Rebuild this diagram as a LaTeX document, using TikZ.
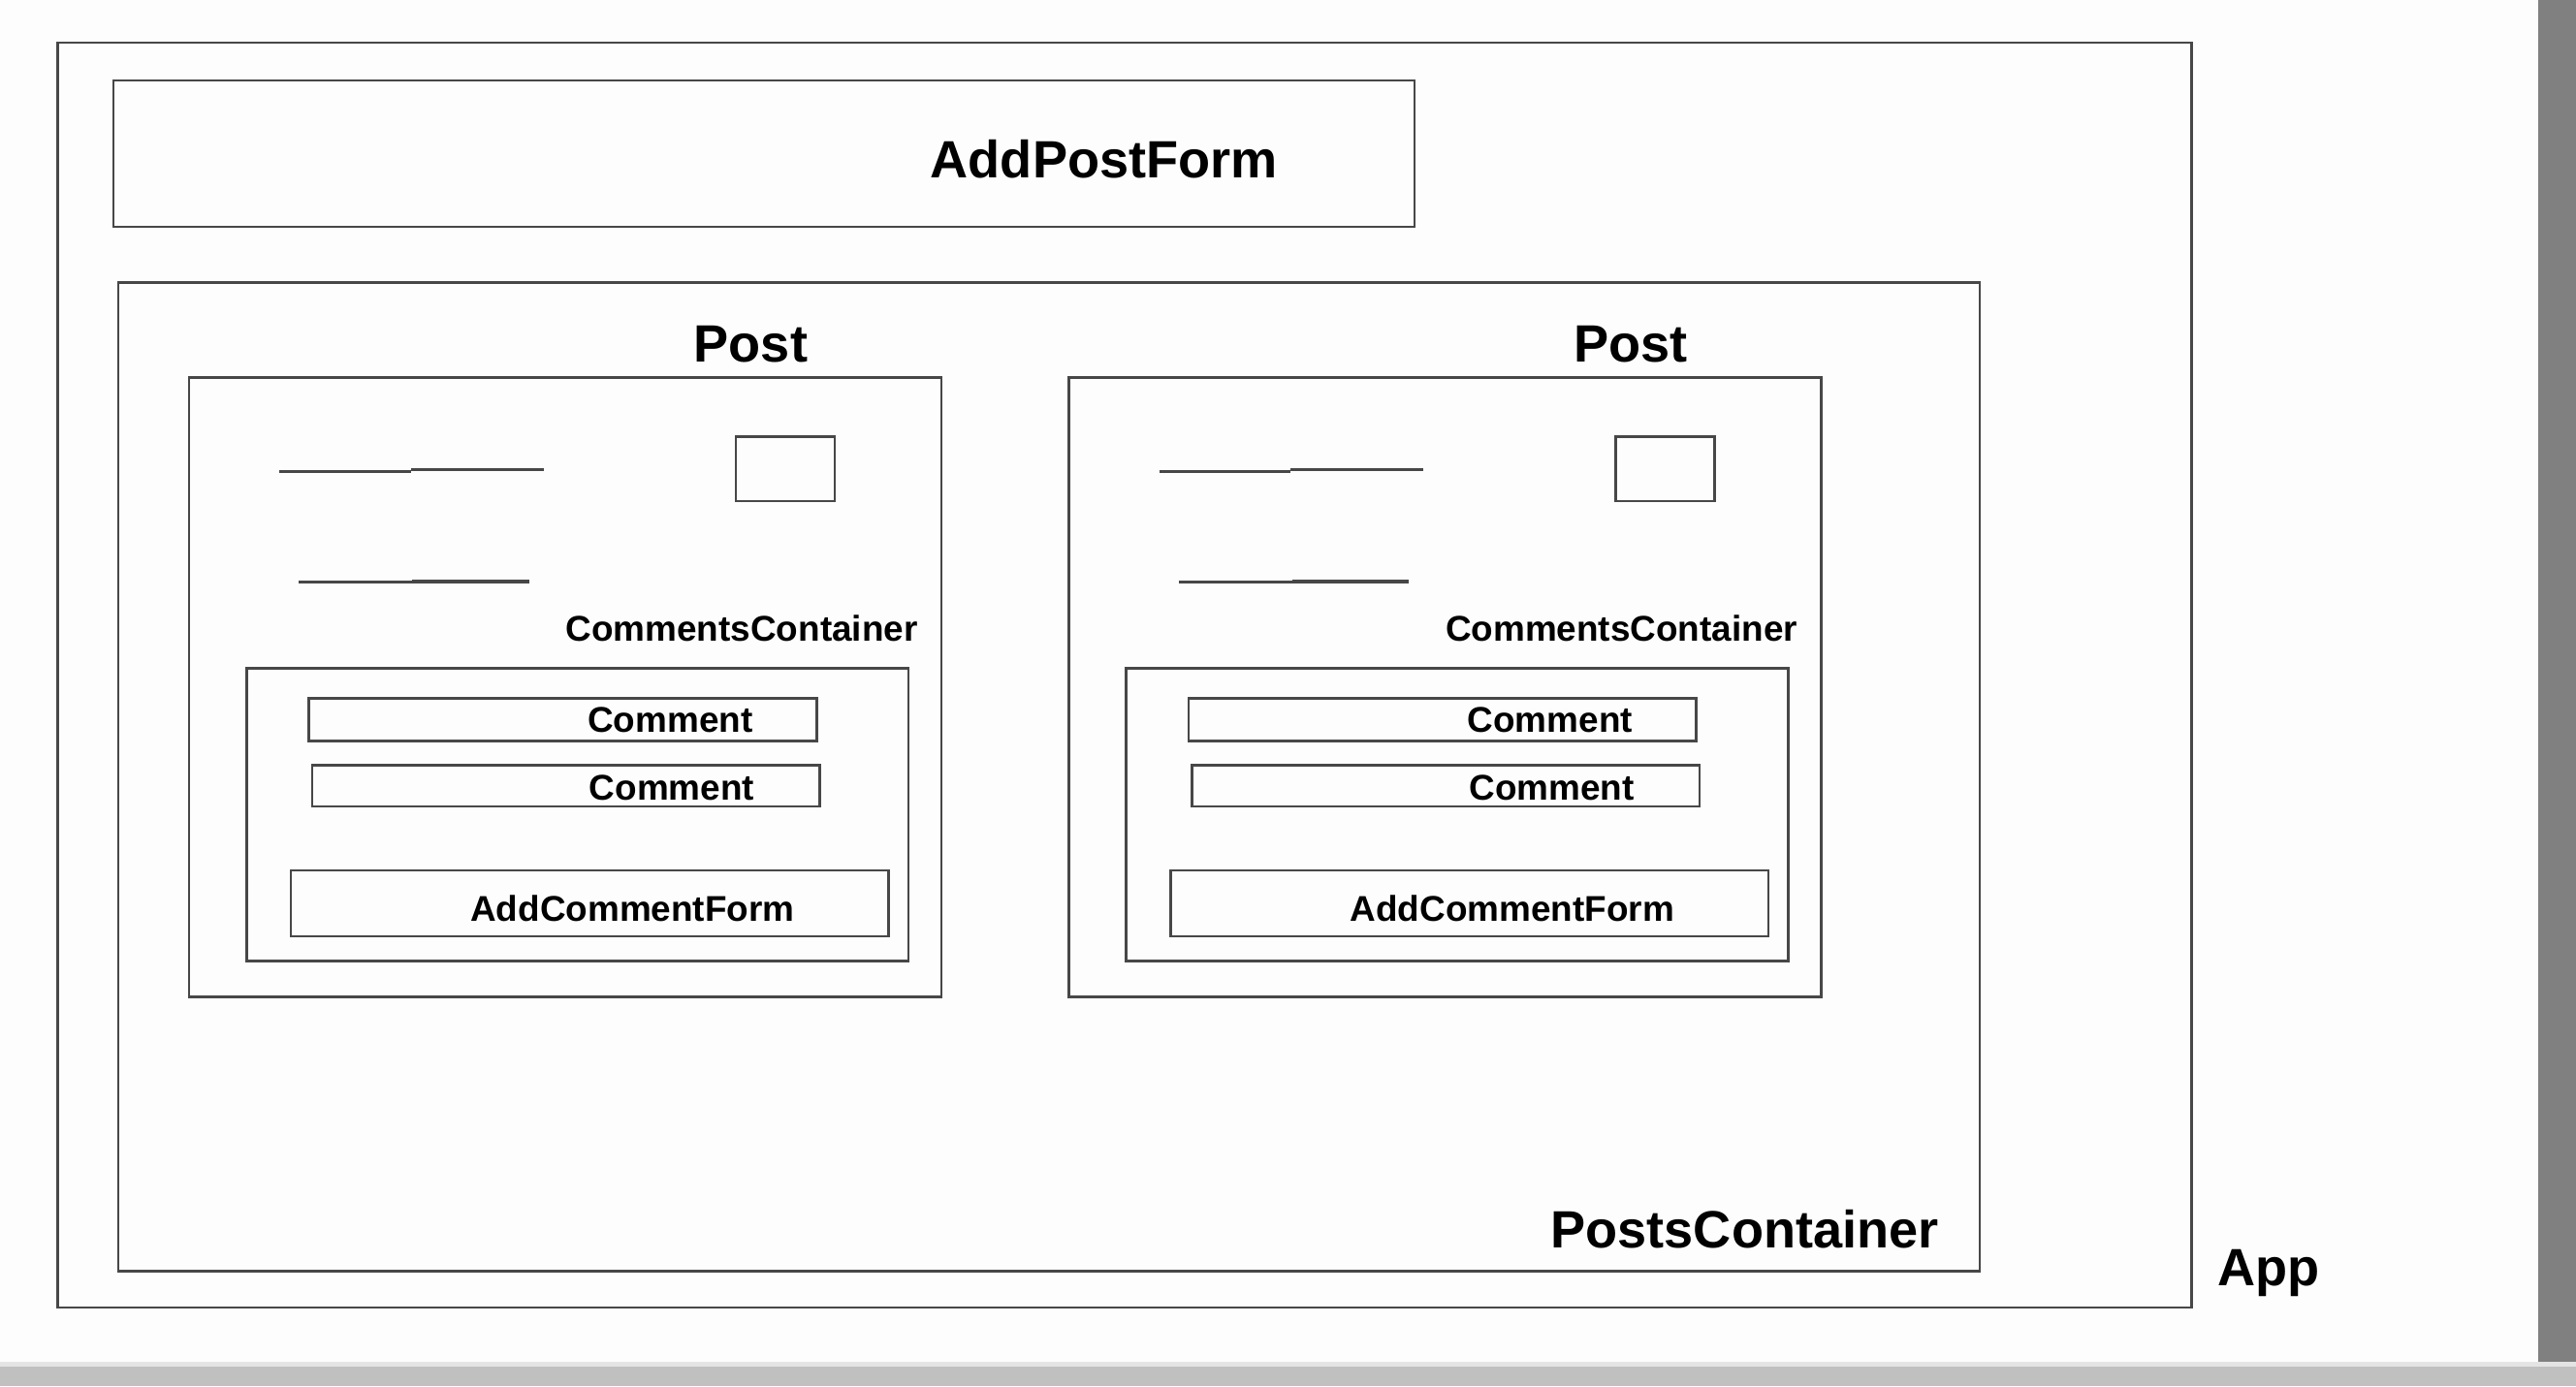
\documentclass[tikz,border=0pt]{standalone}
\usepackage{fontspec}
\setmainfont{Liberation Sans}
\usepackage{xcolor}
\usetikzlibrary{positioning}

\definecolor{pagebg}{HTML}{FDFDFD}
\definecolor{linegray}{HTML}{474747}
\definecolor{barlight}{HTML}{C0C0C0}
\definecolor{barline}{HTML}{E4E4E4}

\tikzset{
  box/.style={draw=linegray, line width=0.75pt},
  biglabel/.style={font=\fontsize{15.4}{18}\selectfont\bfseries, inner sep=0pt, anchor=base},
  smalllabel/.style={font=\fontsize{10.5}{12}\selectfont\bfseries, inner sep=0pt, anchor=base},
}

\begin{document}
\begin{tikzpicture}[x=0.16945mm, y=-0.16945mm]
% page and window edges
\fill[pagebg] (0,0) rectangle (1568,844);
\fill[gray] (1545,0) rectangle (1568,832);
\fill[barline] (0,829) rectangle (1568,832);
\fill[barlight] (0,832) rectangle (1568,844);

% App
\draw[box] (35,26) rectangle (1334,796);
\node[biglabel] (app) at (1381,783) {App};

% AddPostForm
\draw[box] (69,49) rectangle (861,138);
\node[biglabel] (addpostform) at (672,108.5) {AddPostForm};

% PostsContainer
\draw[box] (72,172) rectangle (1205,774);
\node[biglabel] (posts) at (1062,759.5) {PostsContainer};

% the two posts
\foreach \dx/\n in {0/1, 535.5/2} {
    \node[biglabel] (post\n) at (457+\dx,220.5) {Post};
    \draw[box] (115+\dx,230) rectangle (573+\dx,607);
    \draw[box, line width=1pt] (170+\dx,287) -- (250+\dx,287) (250+\dx,286) -- (331+\dx,286);
    \draw[box, line width=1pt] (182+\dx,354.5) -- (251+\dx,354.5) (251+\dx,354) -- (322+\dx,354);
    \draw[box] (448+\dx,266) rectangle (508+\dx,305);
    \node[smalllabel] (comments\n) at (451.5+\dx,390.5) {CommentsContainer};
    \draw[box] (150+\dx,407) rectangle (553+\dx,585);
    \draw[box] (188+\dx,425) rectangle (497+\dx,451);
    \node[smalllabel] (commentA\n) at (408+\dx,446) {Comment};
    \draw[box] (190+\dx,466) rectangle (499+\dx,491);
    \node[smalllabel] (commentB\n) at (409+\dx,487) {Comment};
    \draw[box] (177+\dx,530) rectangle (541+\dx,570);
    \node[smalllabel] (addcomment\n) at (385+\dx,561) {AddCommentForm};
}
\end{tikzpicture}
\end{document}
